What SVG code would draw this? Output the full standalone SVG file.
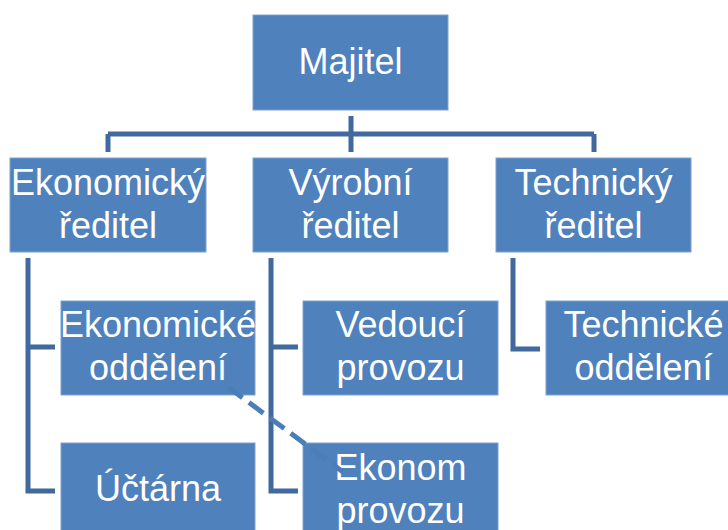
<svg xmlns="http://www.w3.org/2000/svg" width="728" height="530" viewBox="0 0 728 530">
  <style>
    .box { fill: #4F81BD; stroke: #7FA2CE; stroke-width: 1; }
    .lbl { fill: #FFFFFF; font-family: "Liberation Sans", Arial, sans-serif; font-size: 36px; text-anchor: middle; }
    .conn { fill: none; stroke: #41699E; stroke-width: 5; stroke-linejoin: miter; }
    .dash { fill: none; stroke: #4A7DBA; stroke-width: 5; stroke-dasharray: 18 8; }
  </style>
  <rect width="728" height="530" fill="#FFFFFF"/>

  <!-- hierarchy lines -->
  <g id="connectors">
    <path class="conn" d="M351,116 V152"/>
    <path class="conn" d="M108,134 H594"/>
    <path class="conn" d="M108,134 V152"/>
    <path class="conn" d="M594,134 V152"/>
    <path class="conn" d="M55,347 H28 V258 M28,347 V491 H55"/>
    <path class="conn" d="M298,347 H271 V258 M271,347 V491 H298"/>
    <path class="conn" d="M513,258 V349 H540"/>
  </g>

  <g id="majitel">
    <rect class="box" x="253" y="15" width="195" height="95"/>
    <text class="lbl" x="350.5" y="74">Majitel</text>
  </g>

  <g id="ekonomicky-reditel">
    <rect class="box" x="10" y="158" width="196" height="94"/>
    <text class="lbl" x="108" y="195">Ekonomický</text>
    <text class="lbl" x="108" y="238">ředitel</text>
  </g>

  <g id="vyrobni-reditel">
    <rect class="box" x="253" y="158" width="195" height="94"/>
    <text class="lbl" x="350.5" y="195">Výrobní</text>
    <text class="lbl" x="350.5" y="238">ředitel</text>
  </g>

  <g id="technicky-reditel">
    <rect class="box" x="496" y="158" width="195" height="94"/>
    <text class="lbl" x="593.5" y="195">Technický</text>
    <text class="lbl" x="593.5" y="238">ředitel</text>
  </g>

  <g id="ekonomicke-oddeleni">
    <rect class="box" x="61" y="301" width="194" height="94"/>
    <text class="lbl" x="158" y="337">Ekonomické</text>
    <text class="lbl" x="158" y="380">oddělení</text>
  </g>

  <g id="uctarna">
    <rect class="box" x="61" y="443" width="194" height="94"/>
    <text class="lbl" x="158" y="501">Účtárna</text>
  </g>

  <g id="vedouci-provozu">
    <rect class="box" x="303" y="301" width="195" height="94"/>
    <text class="lbl" x="400.5" y="337">Vedoucí</text>
    <text class="lbl" x="400.5" y="380">provozu</text>
  </g>

  <g id="ekonom-provozu">
    <rect class="box" x="303" y="443" width="195" height="94"/>
    <text class="lbl" x="400.5" y="480">Ekonom</text>
    <text class="lbl" x="400.5" y="523">provozu</text>
  </g>

  <g id="technicke-oddeleni">
    <rect class="box" x="546" y="301" width="195" height="94"/>
    <text class="lbl" x="643.5" y="337">Technické</text>
    <text class="lbl" x="643.5" y="380">oddělení</text>
  </g>

  <!-- dotted-line reporting link -->
  <g id="dotted-link">
    <path class="dash" d="M228,387 L343,472"/>
  </g>
</svg>
